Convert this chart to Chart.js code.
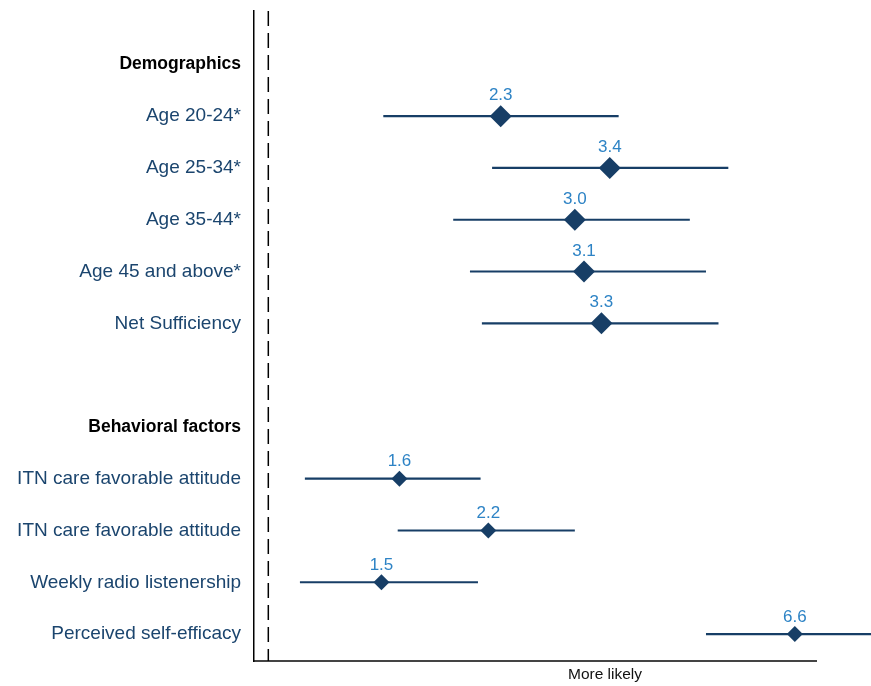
<!DOCTYPE html>
<html>
<head>
<meta charset="utf-8">
<script src="https://cdn.jsdelivr.net/npm/chart.js@4"></script>
<style>
  html, body { margin: 0; padding: 0; background: #ffffff; }
  #wrap { width: 871px; height: 686px; }
</style>
</head>
<body>
<div id="wrap"><canvas id="forest" width="871" height="686"></canvas></div>
<script>
// Row labels, top to bottom ('' is a spacer row)
const rowLabels = [
  'Demographics',
  'Age 20-24*', 'Age 25-34*', 'Age 35-44*', 'Age 45 and above*', 'Net Sufficiency',
  '',
  'Behavioral factors',
  'ITN care favorable attitude', 'ITN care favorable attitude',
  'Weekly radio listenership', 'Perceived self-efficacy'
];
const headerLabels = ['Demographics', 'Behavioral factors'];

// Demographics: odds ratios with confidence bounds
const demoRows = [1, 2, 3, 4, 5];            // positions in rowLabels
const demoOR   = [2.3, 3.4, 3.0, 3.1, 3.3];
const demoLow  = [1.51, 2.23, 1.94, 2.06, 2.15];
const demoHigh = [3.51, 5.20, 4.53, 4.80, 5.02];

// Behavioral factors: odds ratios with confidence bounds
const behavRows = [8, 9, 10, 11];
const behavOR   = [1.6, 2.2, 1.5, 6.6];
const behavLow  = [1.14, 1.59, 1.12, 4.80];
const behavHigh = [2.14, 3.00, 2.12, 9.06];

// Reference line (odds ratio of 1) and the axis text
const refValue = 1;
const axisTitle = 'More likely';

const lastRow = rowLabels.length - 1;
const rowY = i => lastRow - i;               // top row gets the largest y value

const NAVY = '#173e66';
const LABEL_BLUE = '#1b456e';
const VALUE_BLUE = '#2d83c5';
const FAMILY = '"Liberation Sans", Arial, sans-serif';

const Y_MIN = -0.52, Y_MAX = lastRow + 1.03;

const isHeader = ctx => {
  if (!ctx || !ctx.tick) return false;
  return headerLabels.includes(rowLabels[lastRow - ctx.tick.value]);
};

const datasets = [];

// confidence interval lines
function addIntervals(rows, low, high) {
  rows.forEach((r, i) => {
    datasets.push({
      type: 'scatter',
      data: [{ x: low[i], y: rowY(r) }, { x: high[i], y: rowY(r) }],
      showLine: true,
      borderColor: NAVY,
      borderWidth: 2.2,
      pointRadius: 0,
      pointHoverRadius: 0,
      clip: false,
      order: 1
    });
  });
}
addIntervals(demoRows, demoLow, demoHigh);
addIntervals(behavRows, behavLow, behavHigh);

// point estimates as diamonds
datasets.push({
  type: 'scatter',
  label: 'demo',
  data: demoRows.map((r, i) => ({ x: demoOR[i], y: rowY(r) })),
  pointStyle: 'rectRot',
  pointRadius: 11,
  pointHoverRadius: 11,
  backgroundColor: NAVY,
  borderColor: NAVY,
  borderWidth: 0,
  clip: false,
  order: 0,
  valueOffset: 20.5
});
datasets.push({
  type: 'scatter',
  label: 'behav',
  data: behavRows.map((r, i) => ({ x: behavOR[i], y: rowY(r) })),
  pointStyle: 'rectRot',
  pointRadius: 8,
  pointHoverRadius: 8,
  backgroundColor: NAVY,
  borderColor: NAVY,
  borderWidth: 0,
  clip: false,
  order: 0,
  valueOffset: 17
});

// dashed reference line
datasets.push({
  type: 'scatter',
  data: [{ x: refValue, y: Y_MAX }, { x: refValue, y: Y_MIN }],
  showLine: true,
  borderColor: '#000000',
  borderWidth: 1.5,
  borderDash: [15, 7],
  pointRadius: 0,
  pointHoverRadius: 0,
  order: 2
});

// value labels above each diamond, plus the axis caption
const annotate = {
  id: 'annotate',
  afterDatasetsDraw(chart) {
    const ctx = chart.ctx;
    ctx.save();
    ctx.font = '17px ' + FAMILY;
    ctx.fillStyle = VALUE_BLUE;
    ctx.textAlign = 'center';
    ctx.textBaseline = 'middle';
    chart.data.datasets.forEach((ds, di) => {
      if (ds.valueOffset === undefined) return;
      const meta = chart.getDatasetMeta(di);
      meta.data.forEach((el, i) => {
        ctx.fillText(ds.data[i].x.toFixed(1), el.x, el.y - ds.valueOffset);
      });
    });
    const area = chart.chartArea;
    ctx.fillStyle = '#111111';
    ctx.font = '15.5px ' + FAMILY;
    ctx.fillText(axisTitle, area.left + 0.6246 * (area.right - area.left), area.bottom + 13.5);
    ctx.restore();
  }
};

new Chart(document.getElementById('forest'), {
  type: 'scatter',
  data: { datasets },
  options: {
    responsive: false,
    animation: false,
    devicePixelRatio: 1,
    layout: { padding: { left: 0, right: 55, top: 11, bottom: 0 } },
    plugins: {
      legend: { display: false },
      tooltip: { enabled: false }
    },
    scales: {
      x: {
        type: 'logarithmic',
        min: 0.95,
        max: 7.12,
        grid: { display: false, drawTicks: false },
        border: { display: true, color: '#444444', width: 2 },
        ticks: { display: false },
        afterFit(scale) {
          scale.height = 25;
          scale.paddingLeft = 0;
          scale.paddingRight = 0;
        }
      },
      y: {
        type: 'linear',
        min: Y_MIN,
        max: Y_MAX,
        grid: { display: false, drawTicks: false },
        border: { display: true, color: '#000000', width: 1.5 },
        afterBuildTicks(scale) {
          scale.ticks = rowLabels.map((_, i) => ({ value: rowY(i) }));
        },
        ticks: {
          autoSkip: false,
          padding: 13,
          callback: v => rowLabels[lastRow - v],
          color: ctx => isHeader(ctx) ? '#000000' : LABEL_BLUE,
          font: ctx => isHeader(ctx)
            ? { family: FAMILY, size: 17.5, weight: 'bold' }
            : { family: FAMILY, size: 19, weight: 'normal' }
        },
        afterFit(scale) {
          scale.width = 254;
          scale.paddingTop = 0;
          scale.paddingBottom = 0;
        }
      }
    }
  },
  plugins: [annotate]
});
</script>
</body>
</html>
